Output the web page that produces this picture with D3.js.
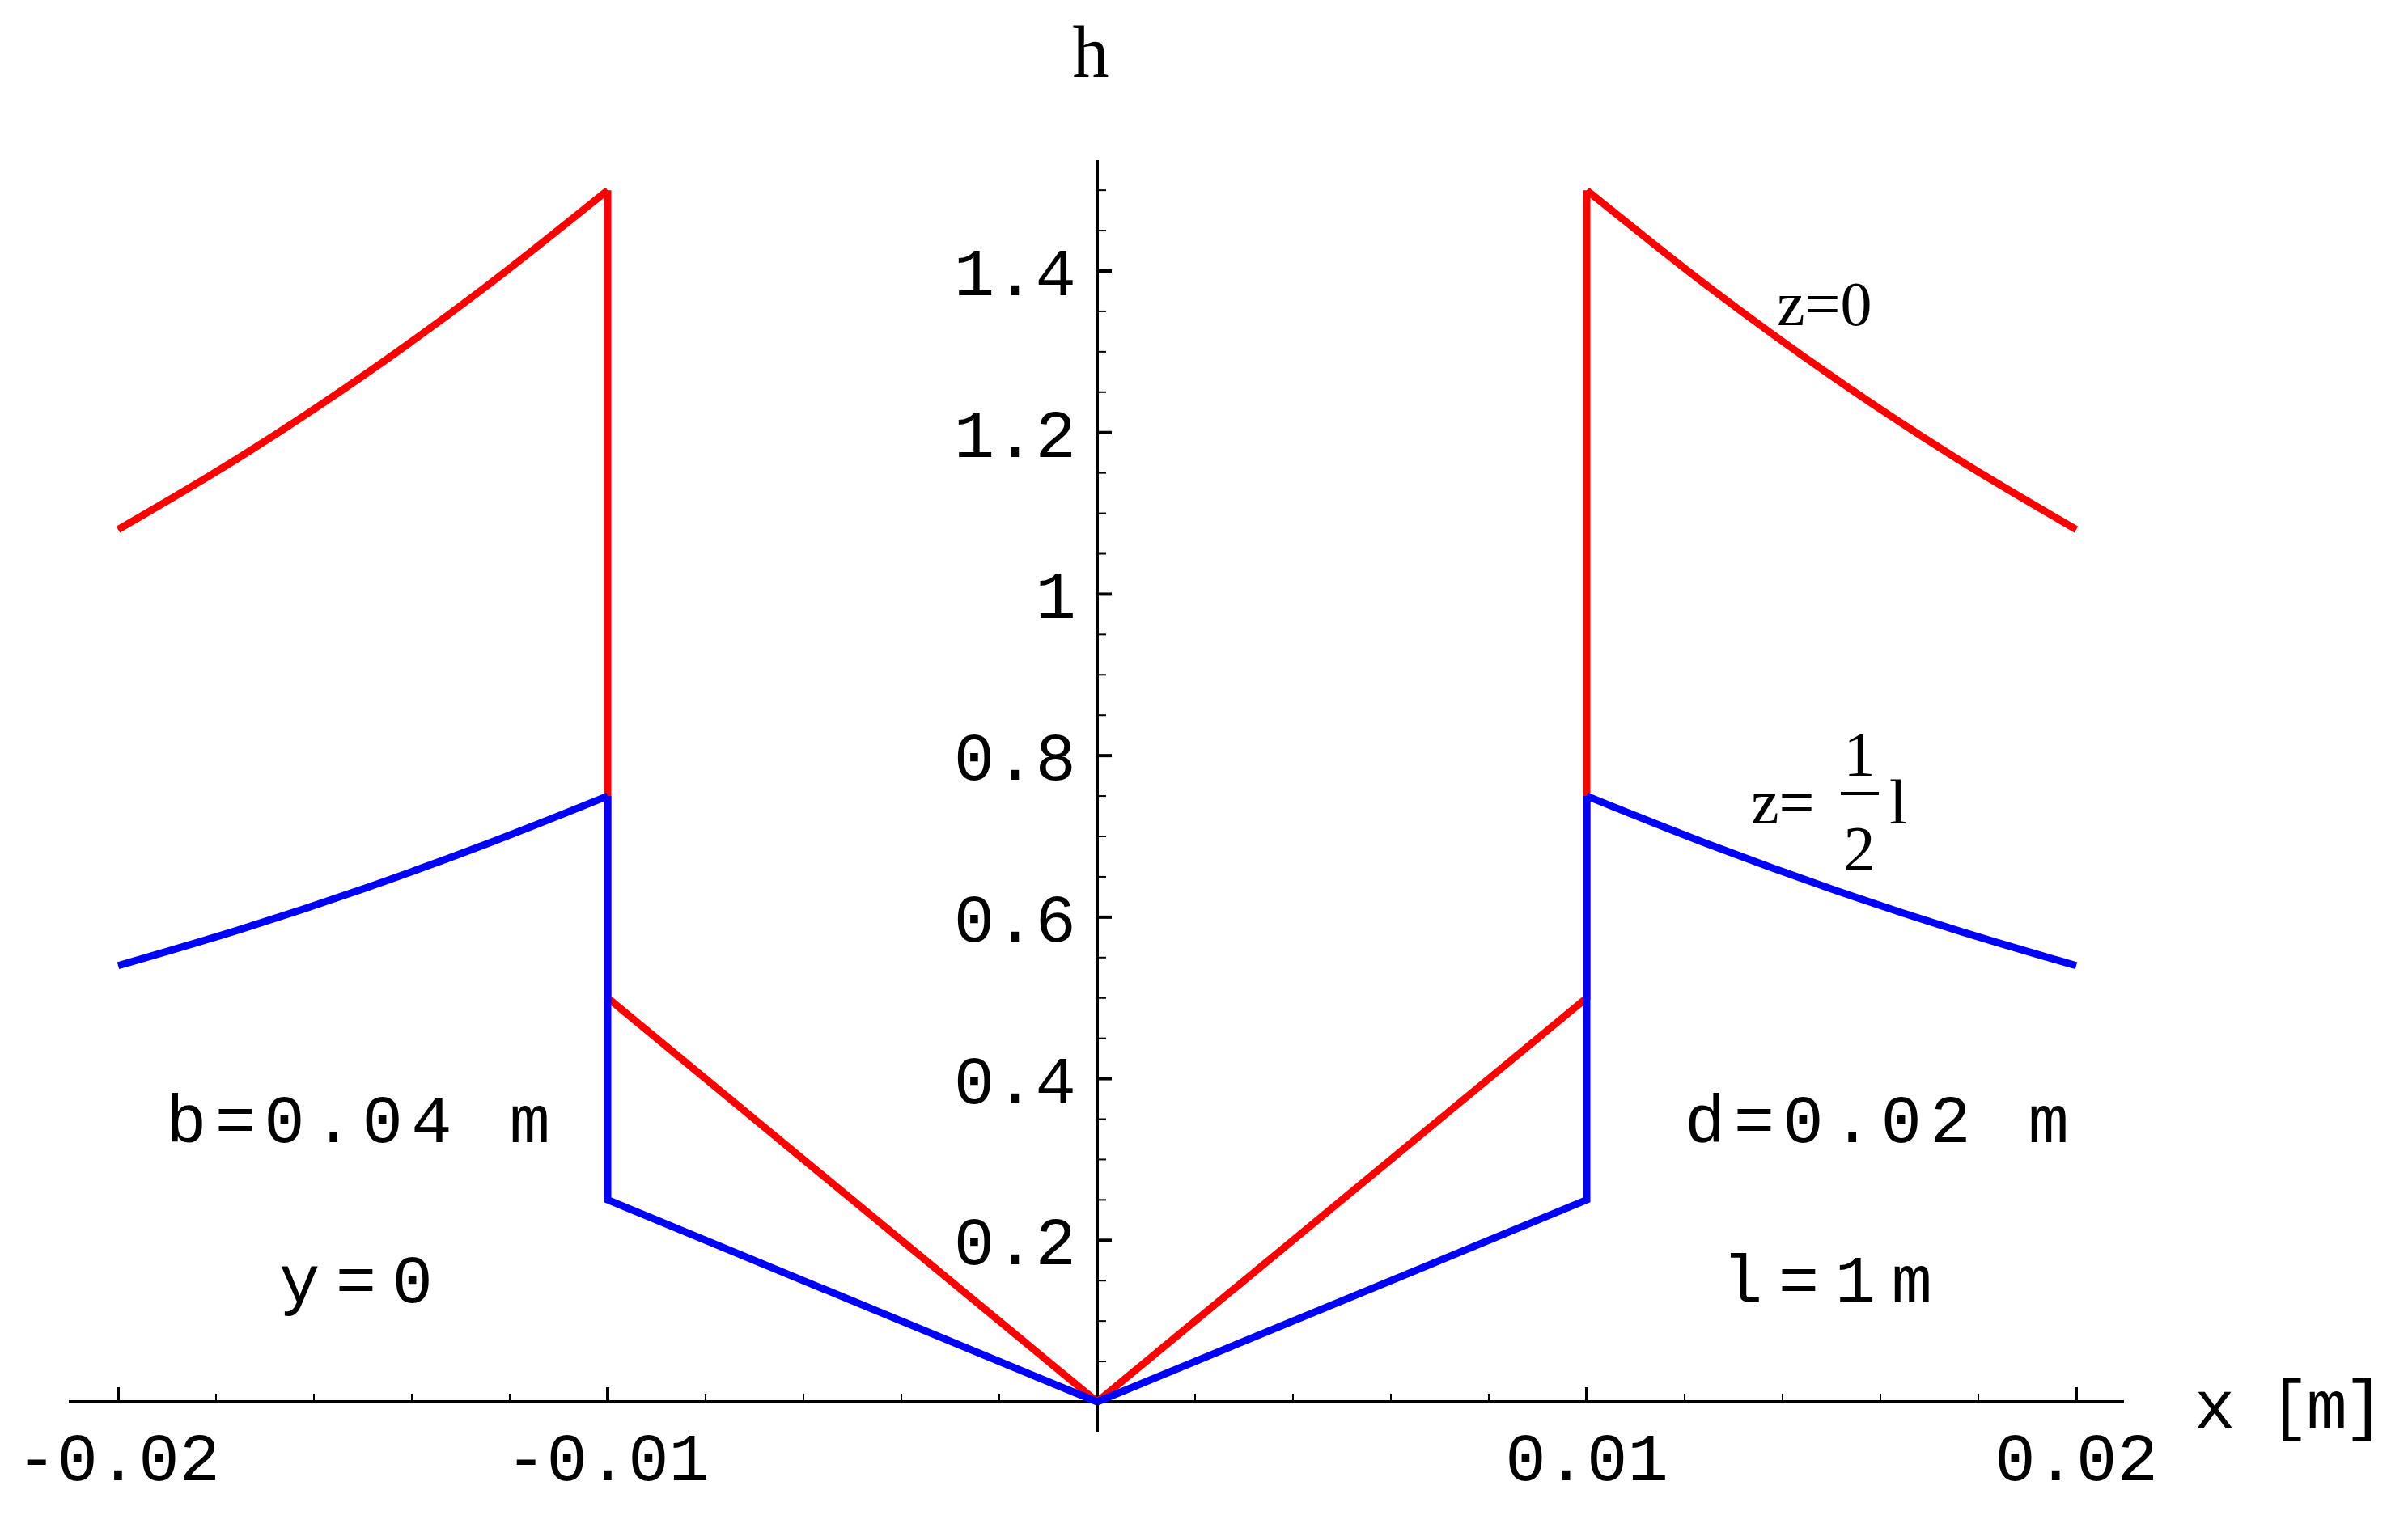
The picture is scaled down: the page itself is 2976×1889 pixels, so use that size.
<!DOCTYPE html><html><head><meta charset="utf-8">
<script src="https://cdn.jsdelivr.net/npm/d3@7"></script>
<style>body{margin:0;background:#fff}</style></head><body>
<svg id="c" width="2976" height="1889"></svg>
<script>
const leftX = [-0.02,-0.0175,-0.015,-0.0125,-0.01];
const redOuter = [1.08,1.17,1.27,1.38,1.5];
const blueOuter = [0.54,0.585,0.635,0.69,0.75];
const redInner = [0.5,0];
const blueInner = [0.25,0];
const xTicks = [-0.02,-0.01,0.01,0.02];
const xTickLabels = ["-0.02","-0.01","0.01","0.02"];
const yTicks = [0.2,0.4,0.6,0.8,1,1.2,1.4];
const yTickLabels = ["0.2","0.4","0.6","0.8","1","1.2","1.4"];

const svg=d3.select("#c");
const x=d3.scaleLinear().domain([-0.02,0.02]).range([146,2566]);
const y=d3.scaleLinear().domain([0,1.4]).range([1733,335]);
const mono="'Liberation Mono', monospace", serif="'Liberation Serif', serif";
const g=svg.append("g");
g.append("line").attr("x1",85).attr("x2",2625).attr("y1",y(0)).attr("y2",y(0)).attr("stroke","#000").attr("stroke-width",4);
g.append("line").attr("x1",x(0)).attr("x2",x(0)).attr("y1",198).attr("y2",1770).attr("stroke","#000").attr("stroke-width",4);
d3.range(-0.022,0.0241,0.002).forEach(v=>{ if(Math.abs(v)<1e-6) return;
  const maj=Math.abs(Math.round(v*1000)%10)===0;
  const xv=x(v); if(xv<85||xv>2625) return;
  g.append("line").attr("x1",xv).attr("x2",xv).attr("y1",y(0)).attr("y2",y(0)-(maj?18:10)).attr("stroke","#000").attr("stroke-width",maj?4:2);});
d3.range(0.05,1.55,0.05).forEach(v=>{ const maj=Math.abs(Math.round(v*100)%20)===0;
  g.append("line").attr("x1",x(0)).attr("x2",x(0)+(maj?18:11)).attr("y1",y(v)).attr("y2",y(v)).attr("stroke","#000").attr("stroke-width",maj?4:2);});
xTicks.forEach((v,i)=>g.append("text").attr("x",x(v)).attr("y",1830).attr("text-anchor","middle").attr("font-family",mono).attr("font-size",84).text(xTickLabels[i]));
yTicks.forEach((v,i)=>g.append("text").attr("x",1330).attr("y",y(v)+30).attr("text-anchor","end").attr("font-family",mono).attr("font-size",84).text(yTickLabels[i]));
const line=d3.line().x(d=>x(d[0])).y(d=>y(d[1]));
const curve=d3.line().x(d=>x(d[0])).y(d=>y(d[1])).curve(d3.curveMonotoneX);
function draw(outer,inner,color){
  const o=leftX.map((v,i)=>[v,outer[i]]);
  const inL=[[-0.01,outer[4]],[-0.01,inner[0]],[0,inner[1]]];
  [[o,inL],[o.map(d=>[-d[0],d[1]]).reverse(),inL.map(d=>[-d[0],d[1]])]].forEach(([a,b])=>{
    g.append("path").attr("d",curve(a)).attr("fill","none").attr("stroke",color).attr("stroke-width",9);
    g.append("path").attr("d",line(b)).attr("fill","none").attr("stroke",color).attr("stroke-width",9);
  });
}
draw(redOuter,redInner,"#ff0000");
draw(blueOuter,blueInner,"#0000ff");
g.append("text").attr("x",1348).attr("y",95).attr("text-anchor","middle").attr("font-family",serif).attr("font-size",90).text("h");
g.append("text").attr("x",2712).attr("y",1765).attr("font-family",mono).attr("font-size",84).attr("textLength",235).attr("xml:space","preserve").text("x [m]");
g.append("text").attr("x",2196).attr("y",402).attr("font-family",serif).attr("font-size",78).text("z=0");
g.append("text").attr("x",2164).attr("y",1018).attr("font-family",serif).attr("font-size",78).text("z=");
g.append("text").attr("x",2298).attr("y",958).attr("text-anchor","middle").attr("font-family",serif).attr("font-size",78).text("1");
g.append("line").attr("x1",2275).attr("x2",2322).attr("y1",981).attr("y2",981).attr("stroke","#000").attr("stroke-width",4);
g.append("text").attr("x",2298).attr("y",1075).attr("text-anchor","middle").attr("font-family",serif).attr("font-size",78).text("2");
g.append("text").attr("x",2335).attr("y",1018).attr("font-family",serif).attr("font-size",78).text("l");
[["b=0.04 m",205,1412,475],["y=0",345,1610,190],["d=0.02 m",2082,1412,475],["l=1m",2128,1610,260]].forEach(t=>
  g.append("text").attr("x",t[1]).attr("y",t[2]).attr("font-family",mono).attr("font-size",84).attr("textLength",t[3]).attr("xml:space","preserve").text(t[0]));
</script></body></html>
